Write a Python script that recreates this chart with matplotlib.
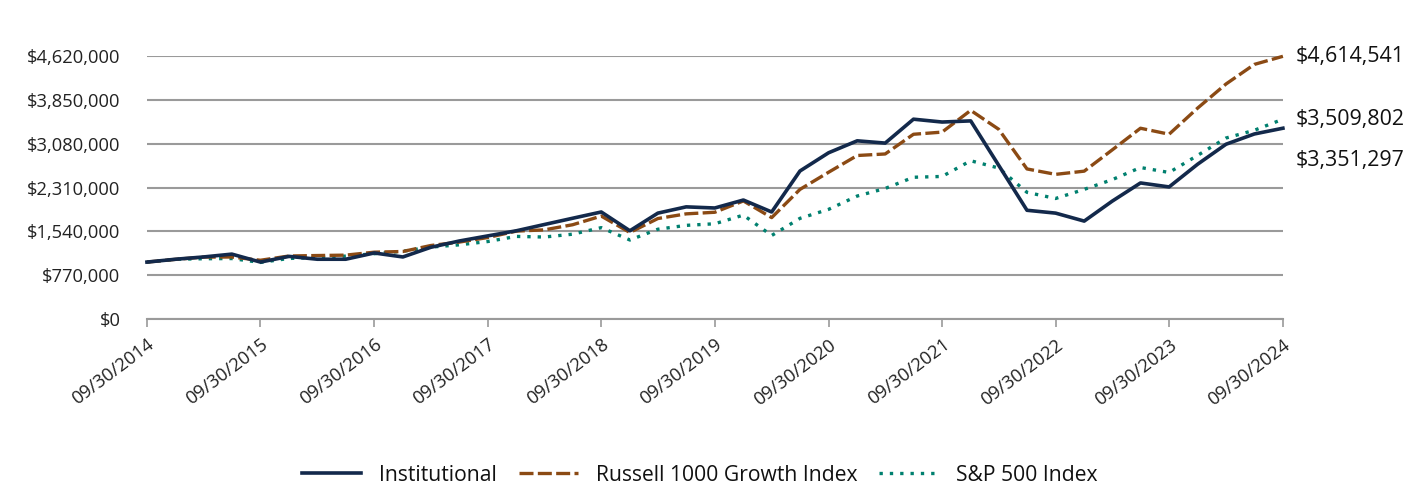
import numpy as np
import pandas as pd
import matplotlib
matplotlib.use("Agg")
import matplotlib.pyplot as plt
from matplotlib.ticker import FuncFormatter

plt.rcParams['font.family'] = ['Open Sans', 'DejaVu Sans']

# quarterly growth of $1,000,000 (values in $M)
dates = pd.date_range('2014-09-30', periods=41, freq='QE')
institutional = [1.00, 1.05, 1.09, 1.14, 1.00, 1.10, 1.05, 1.05, 1.16, 1.09,
                 1.26, 1.37, 1.46, 1.55, 1.66, 1.77, 1.88, 1.55, 1.86, 1.97,
                 1.95, 2.09, 1.88, 2.60, 2.92, 3.13, 3.09, 3.51, 3.46, 3.48,
                 2.70, 1.91, 1.86, 1.72, 2.07, 2.39, 2.32, 2.72, 3.07, 3.25,
                 3.351297]
russell = [1.00, 1.048, 1.088, 1.089, 1.032, 1.107, 1.115, 1.122, 1.174, 1.186,
           1.291, 1.351, 1.431, 1.544, 1.566, 1.656, 1.808, 1.520, 1.765, 1.847,
           1.875, 2.074, 1.781, 2.277, 2.578, 2.872, 2.899, 3.245, 3.283, 3.665,
           3.333, 2.636, 2.541, 2.597, 2.970, 3.351, 3.246, 3.706, 4.128, 4.472,
           4.614541]
sp500 = [1.00, 1.049, 1.059, 1.062, 0.994, 1.064, 1.078, 1.105, 1.147, 1.191,
         1.263, 1.303, 1.361, 1.451, 1.440, 1.490, 1.605, 1.388, 1.577, 1.645,
         1.673, 1.825, 1.467, 1.768, 1.926, 2.160, 2.293, 2.490, 2.504, 2.780,
         2.652, 2.225, 2.117, 2.277, 2.448, 2.661, 2.574, 2.875, 3.179, 3.315,
         3.509802]
series_names = ['Institutional', 'Russell 1000 Growth Index', 'S&P 500 Index']
end_labels = ['$3,351,297', '$4,614,541', '$3,509,802']
y_ticks = [0, 770000, 1540000, 2310000, 3080000, 3850000, 4620000]

navy = '#13294b'
brown = '#8b4a14'
teal = '#00806f'
grid_c = '#9a9a9a'

fig = plt.figure(figsize=(14.28, 4.92), dpi=100)
ax = fig.add_axes([0.1029, 0.3516, 0.7955, 0.5346])

inst = np.array(institutional) * 1e6
rus = np.array(russell) * 1e6
sp = np.array(sp500) * 1e6

ax.plot(dates, sp, color=teal, lw=2.4, dashes=(1, 2.1), label=series_names[2],
        zorder=3, clip_on=False)
ax.plot(dates, rus, color=brown, lw=2.4, dashes=(4.2, 1.3), label=series_names[1],
        zorder=4, clip_on=False)
ax.plot(dates, inst, color=navy, lw=2.6, label=series_names[0], zorder=5,
        clip_on=False)

ax.set_xlim(dates[0], dates[-1])
ax.set_ylim(0, 4620000)
ax.set_yticks(y_ticks)
ax.yaxis.set_major_formatter(FuncFormatter(lambda v, p: '${:,.0f}'.format(v)))
ax.grid(axis='y', color=grid_c, lw=1.5)
ax.set_axisbelow(True)
ax.tick_params(axis='y', length=0, pad=19, labelsize=13.2, labelcolor='#222222')

year_ticks = dates[::4]
ax.set_xticks(year_ticks)
ax.set_xticklabels([d.strftime('%m/%d/%Y') for d in year_ticks])
ax.tick_params(axis='x', length=6, width=1.2, color=grid_c, pad=6,
               labelsize=13.2, labelcolor='#222222')
for lab in ax.get_xticklabels():
    lab.set_rotation(37)
    lab.set_ha('right')
    lab.set_va('top')
    lab.set_rotation_mode('anchor')

for s in ['top', 'right', 'left']:
    ax.spines[s].set_visible(False)
ax.spines['bottom'].set_color(grid_c)
ax.spines['bottom'].set_linewidth(1.5)

# end-value labels
offsets = [-23, 0, 0]
for vals, txt, off in zip([inst, rus, sp], end_labels, offsets):
    ax.annotate(txt, xy=(dates[-1], vals[-1]), xytext=(9, off),
                textcoords='offset points', va='center', ha='left',
                fontsize=15.4, color='#111111', annotation_clip=False)

handles, labels = ax.get_legend_handles_labels()
order = [2, 1, 0]
leg = fig.legend([handles[i] for i in order], [labels[i] for i in order],
                 loc='center', bbox_to_anchor=(0.49, 0.034), ncol=3, frameon=False,
                 fontsize=15.2, handlelength=2.8, handletextpad=0.85,
                 columnspacing=1.05)
for t in leg.get_texts():
    t.set_color('#111111')

fig.savefig('out.png', dpi=100)
